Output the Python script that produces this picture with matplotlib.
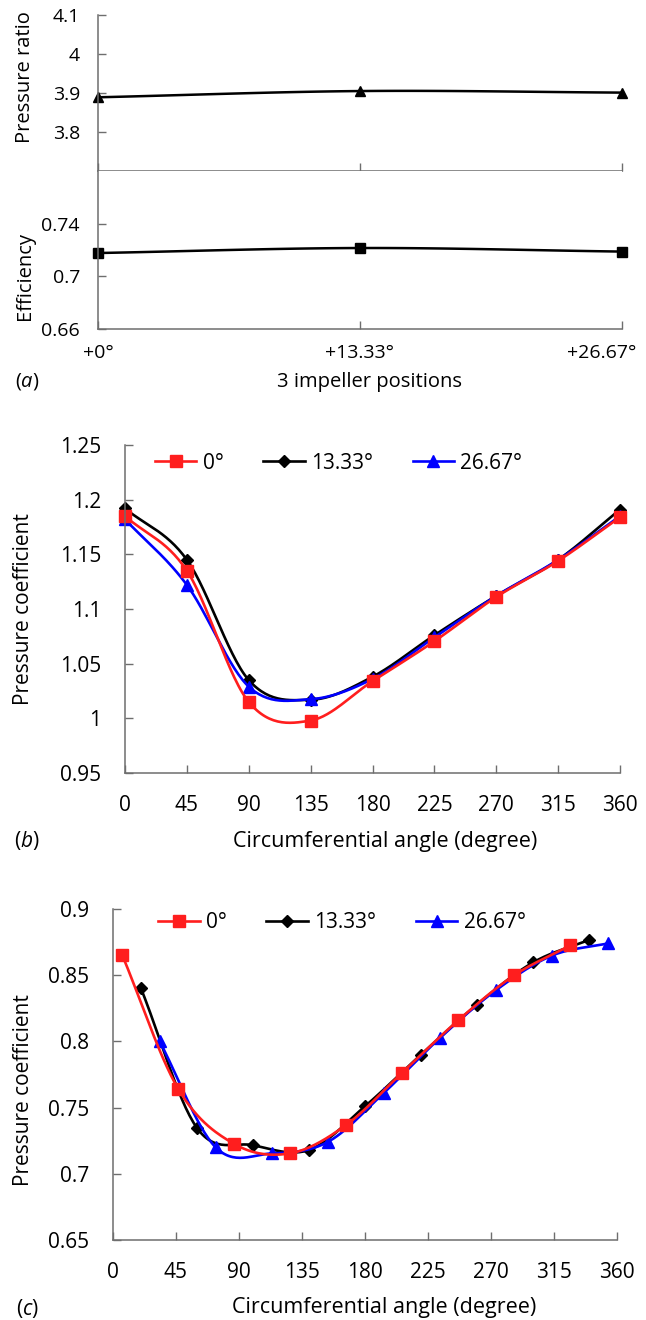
import numpy as np
import matplotlib
matplotlib.use("Agg")
import matplotlib.pyplot as plt
import matplotlib.transforms as mtrans

plt.rcParams['font.family'] = ['Open Sans', 'DejaVu Sans']
plt.rcParams['mathtext.fontset'] = 'custom'
plt.rcParams['mathtext.it'] = 'Open Sans:italic'
plt.rcParams['mathtext.rm'] = 'Open Sans'

# (a) performance at 3 impeller positions
positions = ["+0°", "+13.33°", "+26.67°"]
pressure_ratio = [3.889, 3.905, 3.901]
efficiency = [0.7177, 0.7215, 0.7188]

# (b) pressure coefficient, 9 points
angle_b = [0, 45, 90, 135, 180, 225, 270, 315, 360]
cp_b_0 = [1.185, 1.135, 1.015, 0.998, 1.034, 1.0705, 1.111, 1.144, 1.184]
cp_b_13 = [1.192, 1.145, 1.035, 1.017, 1.038, 1.076, 1.112, 1.145, 1.191]
cp_b_26 = [1.182, 1.122, 1.029, 1.0175, 1.036, 1.074, 1.112, 1.145, 1.185]

# (c) pressure coefficient, shifted probes
angle_c_0 = [6.67, 46.67, 86.67, 126.67, 166.67, 206.67, 246.67, 286.67, 326.67]
angle_c_13 = [20, 60, 100, 140, 180, 220, 260, 300, 340]
angle_c_26 = [33.33, 73.33, 113.33, 153.33, 193.33, 233.33, 273.33, 313.33, 353.33]
cp_c_0 = [0.865, 0.764, 0.7225, 0.7155, 0.737, 0.7765, 0.816, 0.850, 0.8725]
cp_c_13 = [0.840, 0.7346, 0.7216, 0.718, 0.751, 0.790, 0.8278, 0.8596, 0.8766]
cp_c_26 = [0.800, 0.720, 0.7154, 0.724, 0.761, 0.8024, 0.8385, 0.8647, 0.874]

RED = '#FF1E1E'
BLUE = '#0000FF'
AXC = '#6E6E6E'
W, H = 646, 1320


def smooth(x, y, n=30):
    # Catmull-Rom curve through the points (like Excel "smoothed line")
    x = np.asarray(x, float)
    y = np.asarray(y, float)
    px = np.concatenate([[2 * x[0] - x[1]], x, [2 * x[-1] - x[-2]]])
    py = np.concatenate([[2 * y[0] - y[1]], y, [2 * y[-1] - y[-2]]])
    t = np.linspace(0, 1, n, endpoint=False)
    xs, ys = [], []
    for i in range(1, len(px) - 2):
        for p, out in ((px, xs), (py, ys)):
            p0, p1, p2, p3 = p[i - 1], p[i], p[i + 1], p[i + 2]
            out.append(0.5 * (2 * p1 + (-p0 + p2) * t
                              + (2 * p0 - 5 * p1 + 4 * p2 - p3) * t ** 2
                              + (-p0 + 3 * p1 - 3 * p2 + p3) * t ** 3))
    return np.concatenate(xs + [[x[-1]]]), np.concatenate(ys + [[y[-1]]])


def rect(l, t, r, b):
    return [l / W, 1 - b / H, (r - l) / W, (b - t) / H]


def ftext(x, y, s, **kw):
    fig.text(x / W, 1 - y / H, s, ha='center', va='center', **kw)


def style(ax, ypad, xpad, size):
    for s in ('top', 'right'):
        ax.spines[s].set_visible(False)
    for s in ('left', 'bottom'):
        ax.spines[s].set_color(AXC)
        ax.spines[s].set_linewidth(1.1)
    ax.tick_params(direction='in', length=6, width=1, color=AXC, labelsize=size)
    ax.tick_params(axis='y', pad=ypad)
    ax.tick_params(axis='x', pad=xpad)


def fmt(vals):
    return [f'{v:g}' for v in vals]


fig = plt.figure(figsize=(W / 100, H / 100), dpi=100)

# ---- (a) ----
xa = np.arange(len(positions))
ax1 = fig.add_axes(rect(98, 15, 622, 171))
ax2 = fig.add_axes(rect(98, 171, 622, 329))
for ax, vals, mk, ms in ((ax1, pressure_ratio, '^', 7.5), (ax2, efficiency, 's', 7)):
    sx, sy = smooth(xa, vals)
    ax.plot(sx, sy, color='black', lw=1.8, clip_on=False)
    ax.plot(xa, vals, ls='none', marker=mk, ms=ms, color='black', clip_on=False)
    ax.set_xlim(0, 2)
    style(ax, ypad=13, xpad=11, size=14)
    ax.set_xticks(xa)
ax1.set_ylim(3.7, 4.1)
ax1.set_yticks([3.8, 3.9, 4.0, 4.1])
ax1.set_yticklabels(fmt([3.8, 3.9, 4.0, 4.1]))
ax1.set_xticklabels([])
ax2.set_ylim(0.66, 0.78)
ax2.set_yticks([0.66, 0.70, 0.74])
ax2.set_yticklabels(fmt([0.66, 0.70, 0.74]))
ax2.set_xticklabels(positions)
last = ax2.get_xticklabels()[2]
last.set_ha('right')
last.set_transform(last.get_transform() + mtrans.ScaledTranslation(14 / 100, 0, fig.dpi_scale_trans))

ftext(25, 77, 'Pressure ratio', rotation=90, fontsize=14.5)
ftext(25, 276, 'Efficiency', rotation=90, fontsize=14.5)
ftext(369, 382, '3 impeller positions', fontsize=14.5)
ftext(27, 382, r'($\it{a}$)', fontsize=14.5)

# ---- (b) and (c) ----
series_b = [
    (angle_b, cp_b_13, 'black', 'D', 6.5, '13.33°'),
    (angle_b, cp_b_26, BLUE, '^', 9, '26.67°'),
    (angle_b, cp_b_0, RED, 's', 9, '0°'),
]
series_c = [
    (angle_c_13, cp_c_13, 'black', 'D', 6.5, '13.33°'),
    (angle_c_26, cp_c_26, BLUE, '^', 9, '26.67°'),
    (angle_c_0, cp_c_0, RED, 's', 9, '0°'),
]

axb = fig.add_axes(rect(125, 445, 620, 773))
axc = fig.add_axes(rect(113, 909, 617, 1240))

for ax, series, ylim, yt, leg in (
        (axb, series_b, (0.95, 1.25), np.arange(0.95, 1.2501, 0.05), (0.06, 0.945)),
        (axc, series_c, (0.65, 0.90), np.arange(0.65, 0.9001, 0.05), (0.089, 0.958))):
    handles = {}
    for x, y, c, mk, ms, lab in series:
        sx, sy = smooth(x, y)
        ax.plot(sx, sy, color=c, lw=1.9, clip_on=False)
        ax.plot(x, y, ls='none', marker=mk, ms=ms, color=c, clip_on=False)
        handles[lab] = ax.plot([], [], color=c, lw=1.9, marker=mk, ms=ms)[0]
    ax.set_xlim(0, 360)
    ax.set_ylim(*ylim)
    ax.set_xticks(range(0, 361, 45))
    ax.set_yticks(np.round(yt, 2))
    ax.set_yticklabels(fmt(np.round(yt, 2)))
    style(ax, ypad=17, xpad=16, size=15)
    order = ['0°', '13.33°', '26.67°']
    ax.legend([handles[k] for k in order], order, loc='center left',
              bbox_to_anchor=leg, ncol=3, frameon=False, fontsize=15,
              handlelength=2.0, handletextpad=0.3, columnspacing=1.9,
              borderaxespad=0, borderpad=0)

ftext(24, 609, 'Pressure coefficient', rotation=90, fontsize=15)
ftext(385, 841, 'Circumferential angle (degree)', fontsize=15.5)
ftext(27, 841, r'($\it{b}$)', fontsize=15)

ftext(24, 1090, 'Pressure coefficient', rotation=90, fontsize=15)
ftext(384, 1308, 'Circumferential angle (degree)', fontsize=15.5)
ftext(27, 1308, r'($\it{c}$)', fontsize=15)

fig.savefig('out.png', dpi=100)
